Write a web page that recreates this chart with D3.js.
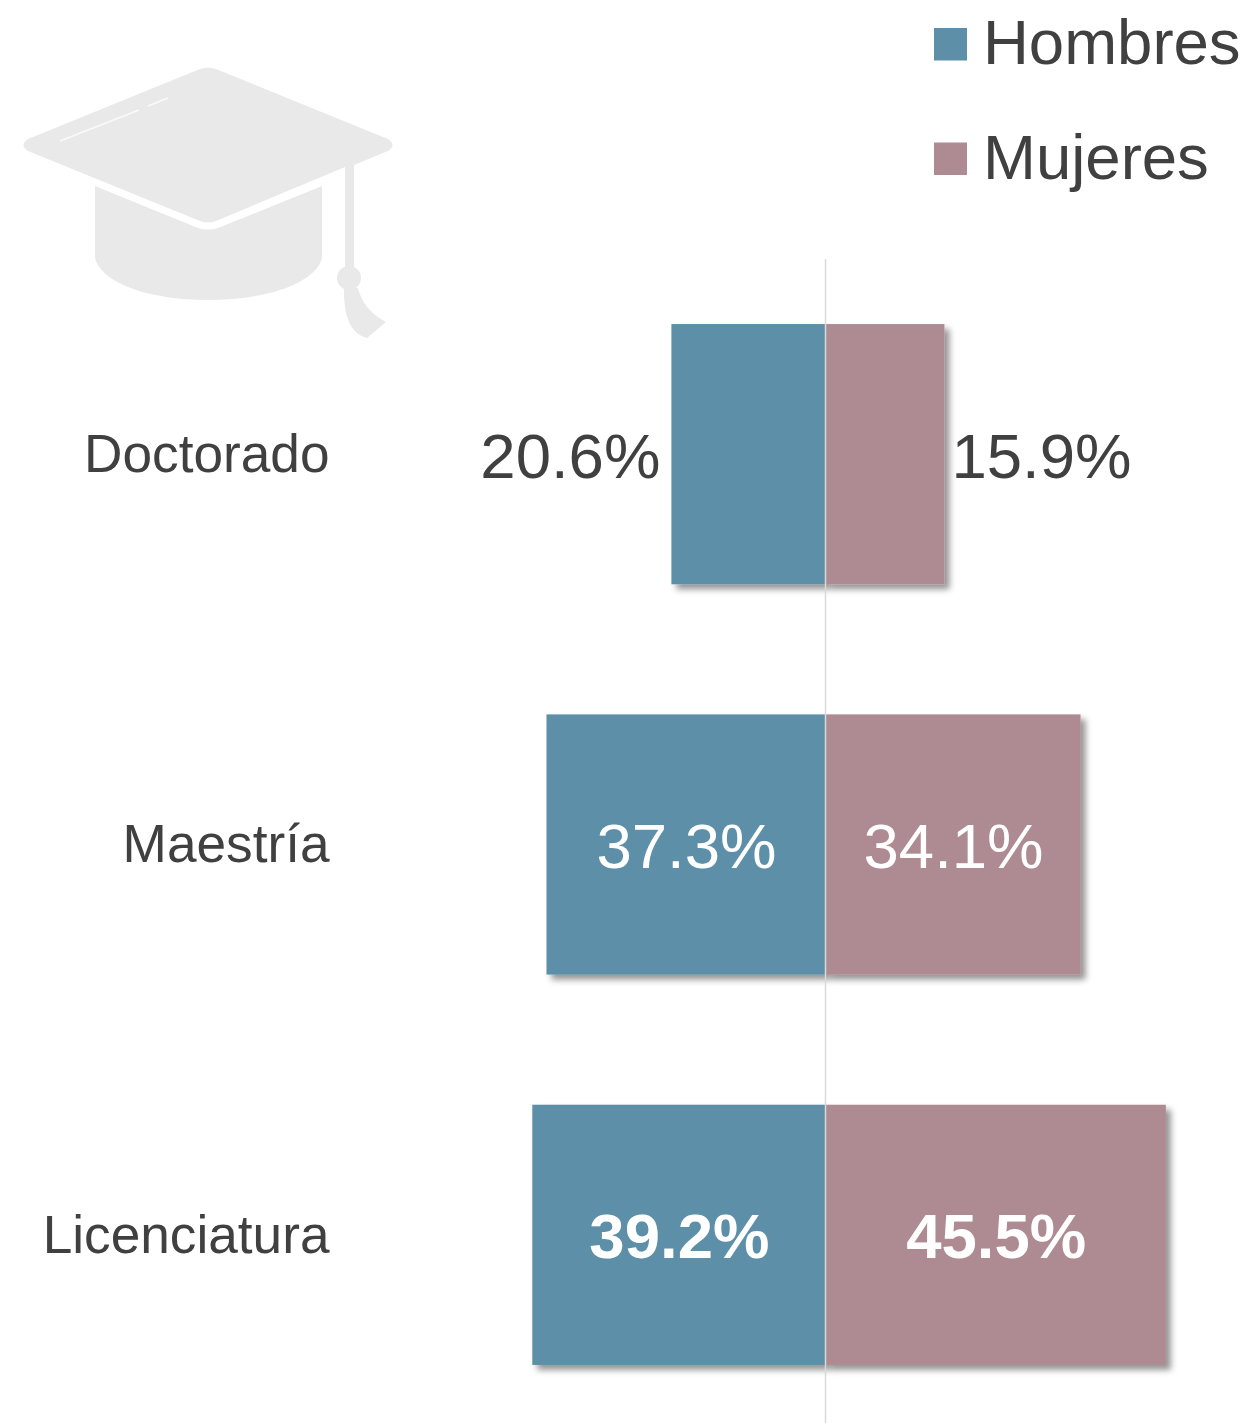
<!DOCTYPE html>
<html>
<head>
<meta charset="utf-8">
<script src="https://cdn.jsdelivr.net/npm/d3@7"></script>
<style>
	html, body { margin: 0; padding: 0; background: #fff; }
	svg { display: block; }
	text { font-family: "Liberation Sans", Arial, sans-serif; }
</style>
</head>
<body>
<div id="chart"></div>
<script>
var categories = ["Doctorado", "Maestría", "Licenciatura"];
var hombres = [20.6, 37.3, 39.2];
var mujeres = [15.9, 34.1, 45.5];
var seriesNames = ["Hombres", "Mujeres"];
var seriesColors = ["#5d90a8", "#ae8b92"];

var width = 1245;
var height = 1423;
var zero = 825.5;
var textColor = "#404040";

var svg = d3.select("#chart")
	.append("svg")
	.attr("width", width)
	.attr("height", height);

//Bar shadow
var shadow = svg.append("defs")
	.append("filter")
	.attr("id", "barShadow")
	.attr("x", "-10%")
	.attr("y", "-10%")
	.attr("width", "125%")
	.attr("height", "125%");
shadow.append("feDropShadow")
	.attr("dx", 5)
	.attr("dy", 5)
	.attr("stdDeviation", 3)
	.attr("flood-color", "#000")
	.attr("flood-opacity", 0.42);

//Scales
var y = d3.scaleBand()
	.domain(categories)
	.range([259, 1430])
	.paddingInner(1 / 3)
	.paddingOuter(1 / 6);

var x = d3.scaleLinear()
	.domain([0, 10])
	.range([0, 74.8]);

//Graduation cap icon
var cap = svg.append("g").attr("fill", "#e9e9e9");
cap.append("path")
	.attr("d", "M200 69 Q208 66 216 69 L388 139 Q397 145 388 151 L354 165 L354 270 L345 270 L345 167 L216 221 Q208 224 200 221 L28 151 Q19 145 28 139 Z");
cap.append("circle")
	.attr("cx", 349)
	.attr("cy", 278)
	.attr("r", 12);
cap.append("path")
	.attr("d", "M344 288 L358 288 Q363 310 386 322 L367 338 Q343 332 344 288 Z");
cap.append("path")
	.attr("d", "M95 186 L198 228 Q208 231 218 228 L322 186 L322 258 C316 282 270 300 208 300 C146 300 101 282 95 258 Z");
cap.append("path")
	.attr("d", "M60 141 L139 110 M148 106 L168 98")
	.attr("fill", "none")
	.attr("stroke", "#fafafa")
	.attr("stroke-width", 1.5);

//Bars
var rows = svg.selectAll(".row")
	.data(categories)
	.enter()
	.append("g")
	.attr("class", "row")
	.attr("transform", function(d) { return "translate(0," + y(d) + ")"; });

rows.append("rect")
	.attr("class", "bar hombres")
	.attr("x", function(d, i) { return zero - x(hombres[i]); })
	.attr("width", function(d, i) { return x(hombres[i]); })
	.attr("height", y.bandwidth())
	.attr("fill", seriesColors[0])
	.attr("filter", "url(#barShadow)");

rows.append("rect")
	.attr("class", "bar mujeres")
	.attr("x", zero)
	.attr("width", function(d, i) { return x(mujeres[i]); })
	.attr("height", y.bandwidth())
	.attr("fill", seriesColors[1])
	.attr("filter", "url(#barShadow)");

//Centre axis line
svg.append("line")
	.attr("x1", zero)
	.attr("x2", zero)
	.attr("y1", 259)
	.attr("y2", height)
	.attr("stroke", "#d9d9d9")
	.attr("stroke-width", 1.5);

//Category labels
rows.append("text")
	.attr("x", 329.5)
	.attr("y", 148)
	.attr("text-anchor", "end")
	.attr("font-size", 53.2)
	.attr("fill", textColor)
	.text(function(d) { return d; });

//Value labels: the short Doctorado bars keep theirs outside
function labelFill(i) { return i === 0 ? textColor : "#fff"; }
function labelWeight(i) { return i === 2 ? "bold" : "normal"; }

rows.append("text")
	.attr("x", function(d, i) {
		return i === 0 ? zero - x(hombres[i]) - 11 : zero - x(hombres[i]) / 2 + 0.5;
	})
	.attr("y", 153.5)
	.attr("text-anchor", function(d, i) { return i === 0 ? "end" : "middle"; })
	.attr("font-size", 63.5)
	.attr("font-weight", function(d, i) { return labelWeight(i); })
	.attr("fill", function(d, i) { return labelFill(i); })
	.text(function(d, i) { return hombres[i].toFixed(1) + "%"; });

rows.append("text")
	.attr("x", function(d, i) {
		return i === 0 ? zero + x(mujeres[i]) + 7 : zero + x(mujeres[i]) / 2 + 0.5;
	})
	.attr("y", 153.5)
	.attr("text-anchor", function(d, i) { return i === 0 ? "start" : "middle"; })
	.attr("font-size", 63.5)
	.attr("font-weight", function(d, i) { return labelWeight(i); })
	.attr("fill", function(d, i) { return labelFill(i); })
	.text(function(d, i) { return mujeres[i].toFixed(1) + "%"; });

//Legend
var legend = svg.selectAll(".legend")
	.data(seriesNames)
	.enter()
	.append("g")
	.attr("class", "legend")
	.attr("transform", function(d, i) { return "translate(934," + (28 + i * 114.5) + ")"; });

legend.append("rect")
	.attr("width", 33)
	.attr("height", 32.5)
	.attr("fill", function(d, i) { return seriesColors[i]; });

legend.append("text")
	.attr("x", 49)
	.attr("y", 36)
	.attr("font-size", 63.5)
	.attr("fill", textColor)
	.text(function(d) { return d; });
</script>
</body>
</html>
